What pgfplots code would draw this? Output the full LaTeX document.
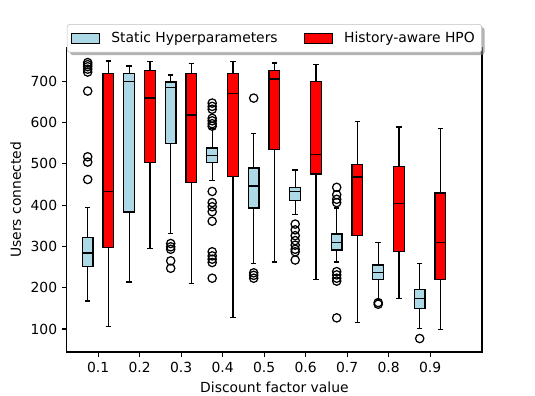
\documentclass[border=0pt]{standalone}
\usepackage{fontspec}
\setmainfont{DejaVu Sans}
\usepackage{pgfplots}
\pgfplotsset{compat=1.18}
\usepgfplotslibrary{statistics}
\usetikzlibrary{shadows}

\definecolor{lblue}{RGB}{173,216,230}

\makeatletter
\tikzset{nopreact/.code={\let\tikz@preactions=\pgfutil@empty}}
\makeatother

\pgfplotsset{
  bx/.style={forget plot, draw=black, line width=0.9pt, fill=#1,
    mark=o, mark size=3pt, mark options={draw=black, fill=none, solid, line width=0.9pt}},
}

\begin{document}
\begin{tikzpicture}
\path[use as bounding box] (-48.2pt,-31pt) rectangle (337pt,253.4pt);
\begin{axis}[
  scale only axis,
  width=298.8pt, height=219.2pt,
  xmin=0.25, xmax=10.25,
  ymin=44.5, ymax=781.5,
  xtick={1,2,3,4,5,6,7,8,9},
  xticklabels={0.1,0.2,0.3,0.4,0.5,0.6,0.7,0.8,0.9},
  ytick={100,200,300,400,500,600,700},
  /pgf/number format/assume math mode=true,
  tick align=outside, xtick pos=bottom, ytick pos=left,
  major tick length=3.5pt,
  every tick/.style={black, line width=0.8pt},
  axis line style={line width=0.8pt},
  tick label style={font=\fontsize{10}{12}\selectfont},
  label style={font=\fontsize{10}{12}\selectfont},
  xlabel={Discount factor value},
  ylabel={Users connected},
  boxplot/draw direction=y,
  boxplot/box extend=0.26,
  boxplot/whisker extend=0.13,
  legend columns=2,
  legend image code/.code={
    \draw[#1, nopreact, sharp corners, line width=0.8pt] (0pt,-3.5pt) rectangle (20pt,3.5pt);},
  legend style={at={(0.5,1.077)}, anchor=north, draw=black!25, rounded corners=2pt,
    fill=white, font=\fontsize{10}{12}\selectfont,
    drop shadow={shadow xshift=2pt, shadow yshift=-2pt, fill=black!50, opacity=0.6},
    inner xsep=3pt, inner ysep=3.5pt,
    /tikz/every odd column/.append style={column sep=6pt},
    /tikz/every even column/.append style={column sep=17pt}},
]
% Static Hyperparameters
\addplot[bx=lblue, boxplot prepared={draw position=0.75, lower whisker=168, lower quartile=252, median=284, upper quartile=322, upper whisker=395}]
  table[row sep=\\, y index=0] {v\\ 745\\ 740\\ 735\\ 729\\ 722\\ 676\\ 517\\ 504\\ 462\\};
\addplot[bx=lblue, boxplot prepared={draw position=1.75, lower whisker=214, lower quartile=383, median=700, upper quartile=719, upper whisker=737}] coordinates {};
\addplot[bx=lblue, boxplot prepared={draw position=2.75, lower whisker=332, lower quartile=550, median=685, upper quartile=698, upper whisker=715}]
  table[row sep=\\, y index=0] {v\\ 307\\ 299\\ 293\\ 265\\ 247\\};
\addplot[bx=lblue, boxplot prepared={draw position=3.75, lower whisker=459, lower quartile=503, median=520, upper quartile=538, upper whisker=585}]
  table[row sep=\\, y index=0] {v\\ 647\\ 639\\ 632\\ 610\\ 604\\ 597\\ 591\\ 433\\ 406\\ 396\\ 384\\ 361\\ 287\\ 277\\ 269\\ 261\\ 223\\};
\addplot[bx=lblue, boxplot prepared={draw position=4.75, lower whisker=259, lower quartile=393, median=446, upper quartile=490, upper whisker=574}]
  table[row sep=\\, y index=0] {v\\ 659\\ 236\\ 230\\ 223\\};
\addplot[bx=lblue, boxplot prepared={draw position=5.75, lower whisker=378, lower quartile=412, median=432, upper quartile=443, upper whisker=485}]
  table[row sep=\\, y index=0] {v\\ 354\\ 340\\ 326\\ 314\\ 303\\ 293\\ 287\\ 267\\};
\addplot[bx=lblue, boxplot prepared={draw position=6.75, lower whisker=262, lower quartile=291, median=310, upper quartile=330, upper whisker=393}]
  table[row sep=\\, y index=0] {v\\ 443\\ 425\\ 414\\ 406\\ 239\\ 231\\ 223\\ 216\\ 127\\};
\addplot[bx=lblue, boxplot prepared={draw position=7.75, lower whisker=172, lower quartile=219, median=237, upper quartile=255, upper whisker=310}]
  table[row sep=\\, y index=0] {v\\ 164\\ 160\\};
\addplot[bx=lblue, boxplot prepared={draw position=8.75, lower whisker=101, lower quartile=150, median=174, upper quartile=196, upper whisker=259}]
  table[row sep=\\, y index=0] {v\\ 77\\};
% History-aware HPO
\addplot[bx=red, boxplot prepared={draw position=1.25, lower whisker=107, lower quartile=298, median=433, upper quartile=719, upper whisker=749}] coordinates {};
\addplot[bx=red, boxplot prepared={draw position=2.25, lower whisker=295, lower quartile=504, median=659, upper quartile=725, upper whisker=747}] coordinates {};
\addplot[bx=red, boxplot prepared={draw position=3.25, lower whisker=210, lower quartile=455, median=618, upper quartile=719, upper whisker=742}] coordinates {};
\addplot[bx=red, boxplot prepared={draw position=4.25, lower whisker=128, lower quartile=470, median=671, upper quartile=718, upper whisker=747}] coordinates {};
\addplot[bx=red, boxplot prepared={draw position=5.25, lower whisker=262, lower quartile=535, median=705, upper quartile=726, upper whisker=744}] coordinates {};
\addplot[bx=red, boxplot prepared={draw position=6.25, lower whisker=219, lower quartile=475, median=523, upper quartile=700, upper whisker=740}] coordinates {};
\addplot[bx=red, boxplot prepared={draw position=7.25, lower whisker=116, lower quartile=327, median=468, upper quartile=499, upper whisker=602}] coordinates {};
\addplot[bx=red, boxplot prepared={draw position=8.25, lower whisker=174, lower quartile=288, median=404, upper quartile=494, upper whisker=589}] coordinates {};
\addplot[bx=red, boxplot prepared={draw position=9.25, lower whisker=99, lower quartile=219, median=310, upper quartile=429, upper whisker=586}] coordinates {};
\addlegendimage{draw=black, fill=lblue}
\addlegendentry{Static Hyperparameters}
\addlegendimage{draw=black, fill=red}
\addlegendentry{History-aware HPO}
\end{axis}
\end{tikzpicture}
\end{document}
